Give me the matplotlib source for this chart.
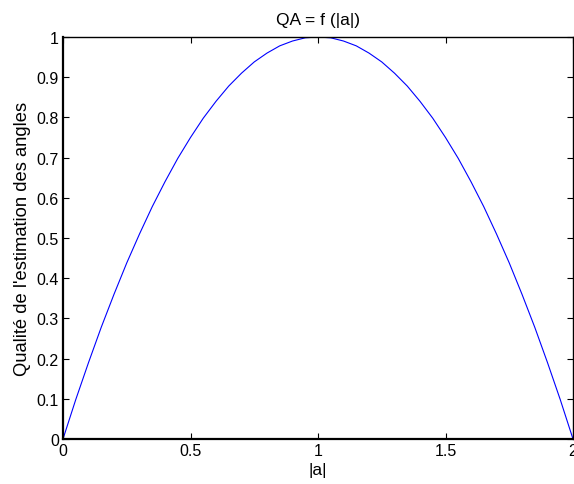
import matplotlib
matplotlib.use("Agg")
import matplotlib.pyplot as plt

# values (|a| step 0.025)
a_vals = [0.0, 0.025, 0.05, 0.075, 0.1, 0.125, 0.15, 0.175, 0.2, 0.225,
          0.25, 0.275, 0.3, 0.325, 0.35, 0.375, 0.4, 0.425, 0.45, 0.475,
          0.5, 0.525, 0.55, 0.575, 0.6, 0.625, 0.65, 0.675, 0.7, 0.725,
          0.75, 0.775, 0.8, 0.825, 0.85, 0.875, 0.9, 0.925, 0.95, 0.975,
          1.0, 1.025, 1.05, 1.075, 1.1, 1.125, 1.15, 1.175, 1.2, 1.225,
          1.25, 1.275, 1.3, 1.325, 1.35, 1.375, 1.4, 1.425, 1.45, 1.475,
          1.5, 1.525, 1.55, 1.575, 1.6, 1.625, 1.65, 1.675, 1.7, 1.725,
          1.75, 1.775, 1.8, 1.825, 1.85, 1.875, 1.9, 1.925, 1.95, 1.975, 2.0]
qa_vals = [0.0, 0.049, 0.098, 0.144, 0.19, 0.234, 0.278, 0.319, 0.36, 0.399,
           0.438, 0.474, 0.51, 0.544, 0.578, 0.609, 0.64, 0.669, 0.698, 0.724,
           0.75, 0.774, 0.798, 0.819, 0.84, 0.859, 0.878, 0.894, 0.91, 0.924,
           0.938, 0.949, 0.96, 0.969, 0.978, 0.984, 0.99, 0.994, 0.998, 0.999,
           1.0, 0.999, 0.998, 0.994, 0.99, 0.984, 0.978, 0.969, 0.96, 0.949,
           0.938, 0.924, 0.91, 0.894, 0.878, 0.859, 0.84, 0.819, 0.798, 0.774,
           0.75, 0.724, 0.698, 0.669, 0.64, 0.609, 0.578, 0.544, 0.51, 0.474,
           0.438, 0.399, 0.36, 0.319, 0.278, 0.234, 0.19, 0.144, 0.098, 0.049, 0.0]
x_ticks = [0, 0.5, 1, 1.5, 2]
x_tick_labels = ["0", "0.5", "1", "1.5", "2"]
y_ticks = [0, 0.1, 0.2, 0.3, 0.4, 0.5, 0.6, 0.7, 0.8, 0.9, 1]
y_tick_labels = ["0", "0.1", "0.2", "0.3", "0.4", "0.5", "0.6", "0.7", "0.8", "0.9", "1"]

plt.rcParams['font.family'] = ['Liberation Sans', 'DejaVu Sans']

fig = plt.figure(figsize=(5.74, 4.85), dpi=100)
ax = fig.add_axes([63/574, 45/485, 510/574, 402/485])
ax.plot(a_vals, qa_vals, color=(0, 0, 1), linewidth=0.8)
ax.set_xlim(0, 2)
ax.set_ylim(0, 1)
ax.set_xticks(x_ticks)
ax.set_xticklabels(x_tick_labels)
ax.set_yticks(y_ticks)
ax.set_yticklabels(y_tick_labels)
ax.tick_params(direction='in', length=4.5, width=0.8, top=True, right=True,
               labelsize=11.5, colors='black', pad=3)
ax.spines['left'].set_linewidth(1.6)
ax.spines['bottom'].set_linewidth(1.6)
ax.spines['top'].set_linewidth(1.0)
ax.spines['right'].set_linewidth(1.0)
ax.set_title("QA = f (|a|)", fontsize=12.5, pad=9)
ax.set_xlabel("|a|", fontsize=12.5, labelpad=3)
ax.set_ylabel("Qualité de l'estimation des angles", fontsize=13.2, labelpad=4)
fig.savefig("out.png", dpi=100)
